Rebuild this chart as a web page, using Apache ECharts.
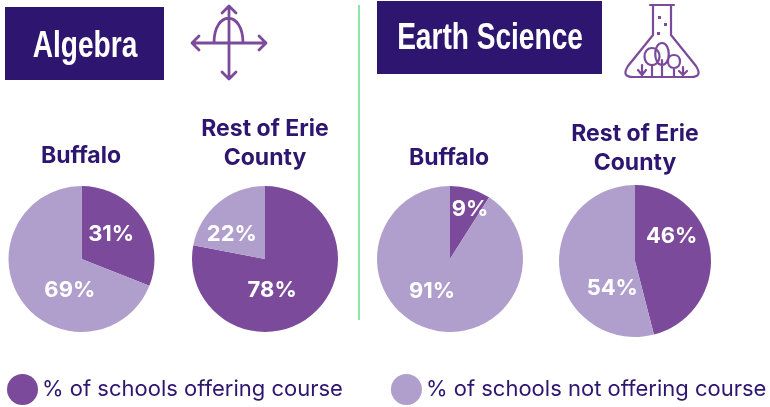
<!DOCTYPE html>
<html><head><meta charset="utf-8">
<style>html,body{margin:0;padding:0;background:#fff}#c{width:770px;height:407px}</style>
<script src="https://cdn.jsdelivr.net/npm/echarts@6/dist/echarts.min.js"></script>
</head><body><div id="c"></div>
<script>
const categories = ['% of schools offering course', '% of schools not offering course'];
const algebraBuffalo = [31, 69];
const algebraRest = [78, 22];
const earthBuffalo = [9, 91];
const earthRest = [46, 54];

const DARK = '#7B4A9B', LIGHT = '#B09FCC', NAVY = '#2E1570';
const FONT = 'Inter, "Noto Sans", sans-serif';
const NARROW = '"Liberation Sans", sans-serif';

function pie(values, cx, cy, r, offsets) {
  return {
    type: 'pie', center: [cx, cy], radius: [0, r], startAngle: 90, clockwise: true,
    silent: true, animation: false,
    label: { show: true, position: 'inside', formatter: '{c}%', color: '#fff',
      fontFamily: FONT, fontWeight: 700, fontSize: 22 },
    labelLine: { show: false },
    data: values.map((v, i) => ({
      name: categories[i], value: v,
      itemStyle: { color: i === 0 ? DARK : LIGHT },
      label: { offset: offsets[i] }
    }))
  };
}
function txt(x, y, s, size, color, weight, fam, sx) {
  return { type: 'text', x, y, scaleX: sx || 1, silent: true, style: { text: s, x: 0, y: 0, fill: color,
    font: `${weight} ${size}px ${fam}`, textAlign: 'center', textVerticalAlign: 'middle' } };
}
echarts.graphic.registerShape('axesIcon', echarts.graphic.extendPath('M229 7V78M222 13L229 6L236 13M222 72L229 79L236 72M193 43H265M199 36L192 43L199 50M259 36L266 43L259 50M214 43C214 10 243 10 243 43', {}));
echarts.graphic.registerShape('flaskIcon', echarts.graphic.extendPath('M650 5H674M653 5V35L628 66Q621 77 633 77H691Q703 77 696 66L671 35V5M652 65C642 65 642 48 652 48C662 48 662 65 652 65M652 65V77M662 65C653 65 653 43 662 43C671 43 671 65 662 65M662 60V77M674 68C666 68 666 55 674 55C682 55 682 68 674 68M674 68V77M642 65V76M638 70L642 75L646 70M683 67V76M679 71L683 75L687 71', {}));
function ico(type, w) {
  return { type, silent: true, shape: {},
    style: { fill: null, stroke: DARK, lineWidth: w, lineCap: 'round', lineJoin: 'round' } };
}
const chart = echarts.init(document.getElementById('c'), null, { renderer: 'canvas' });
chart.setOption({
  animation: false,
  backgroundColor: '#fff',
  legend: {
    left: 7, top: 374, itemWidth: 31, itemHeight: 31, itemGap: 48, icon: 'circle', selectedMode: false,
    padding: 0,
    data: categories,
    textStyle: { color: NAVY, fontFamily: FONT, fontSize: 22, fontWeight: 400, padding: [7, 0, 0, -1] }
  },
  series: [
    pie(algebraBuffalo, 81.5, 259, 73, [[-3, -2], [21, 9]]),
    pie(algebraRest, 265, 259, 73, [[-18, 1], [-8, 6]]),
    pie(earthBuffalo, 450, 259, 73, [[9, -12], [-7, -6]]),
    pie(earthRest, 635, 261, 76, [[-4, -19], [18, 22]])
  ],
  graphic: { elements: [
    { type: 'rect', silent: true, shape: { x: 5, y: 7, width: 159, height: 73 }, style: { fill: NAVY } },
    { type: 'rect', silent: true, shape: { x: 377, y: 1, width: 225, height: 73 }, style: { fill: NAVY } },
    { type: 'rect', silent: true, shape: { x: 358, y: 5, width: 2, height: 315 }, style: { fill: '#8EE8A5' } },
    txt(85, 47, 'Algebra', 36, '#fff', 700, NARROW, 0.78),
    txt(490, 39, 'Earth Science', 36, '#fff', 700, NARROW, 0.78),
    txt(81, 156.5, 'Buffalo', 23, NAVY, 700, FONT),
    txt(265, 129.5, 'Rest of Erie', 23, NAVY, 700, FONT),
    txt(265, 158.5, 'County', 23, NAVY, 700, FONT),
    txt(449, 158.5, 'Buffalo', 23, NAVY, 700, FONT),
    txt(635, 134.5, 'Rest of Erie', 23, NAVY, 700, FONT),
    txt(635, 163.5, 'County', 23, NAVY, 700, FONT),
    ico('axesIcon', 2.8),
    ico('flaskIcon', 2.2),
    { type: 'rect', silent: true, shape: { x: 658, y: 16, width: 3, height: 3 }, style: { fill: DARK } },
    { type: 'rect', silent: true, shape: { x: 664, y: 23, width: 3, height: 3 }, style: { fill: DARK } },
    { type: 'rect', silent: true, shape: { x: 657, y: 32, width: 3, height: 3 }, style: { fill: DARK } }
  ] }
});
</script></body></html>
